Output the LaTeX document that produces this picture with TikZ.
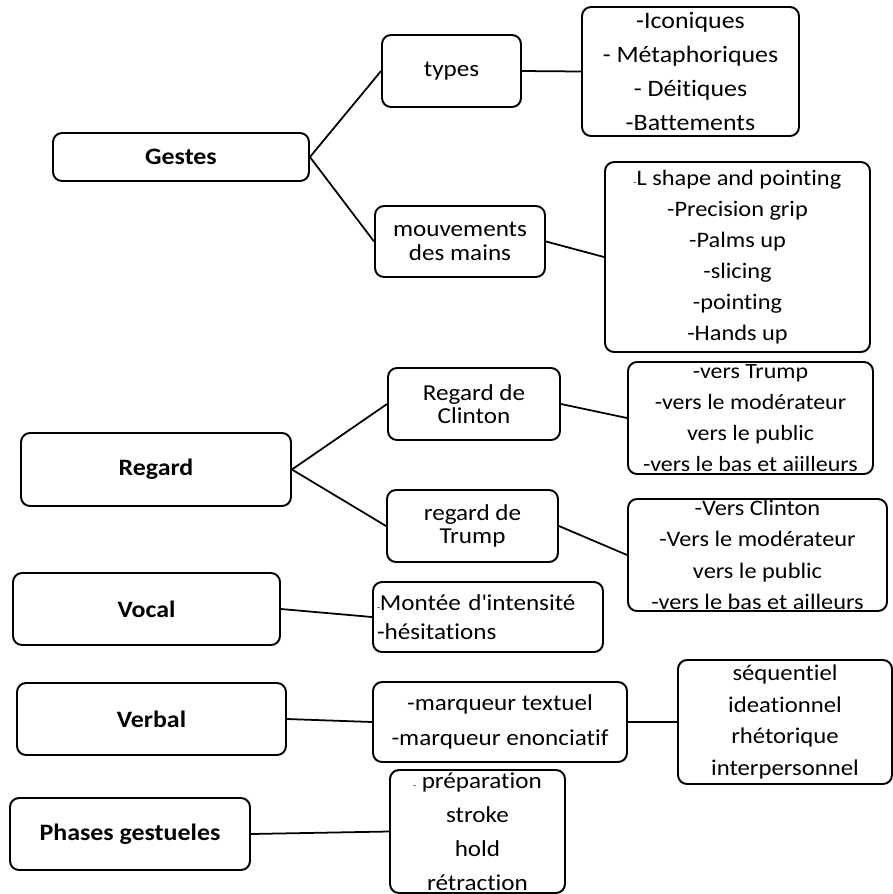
\documentclass[tikz,border=0pt]{standalone}
\usepackage{fontspec}
\setmainfont{Carlito}[FakeStretch=1.1, Ligatures=NoCommon]
\usepackage{tikz}

\begin{document}
\begin{tikzpicture}[x=0.02cm, y=-0.02cm,
  box/.style={draw, rounded corners=0.18cm, line width=1.1pt, inner sep=0pt, align=center},
  mainbox/.style={box, font=\fontsize{13.4}{15}\selectfont\bfseries},
  twoline/.style={box, font=\fontsize{13.0}{13.3}\selectfont},
  link/.style={line width=1pt}]
  \useasboundingbox (0, 0) rectangle (893, 894);
  \node [mainbox, minimum width=5.12cm, minimum height=0.96cm] (gestes) at (181, 157) {Gestes};
  \node [twoline, minimum width=2.78cm, minimum height=1.44cm] (types) at (451.5, 71) {types};
  \node [twoline, minimum width=3.40cm, minimum height=1.42cm] (mains) at (460, 241.5) {mouvements\\des mains};
  \node [box, minimum width=4.34cm, minimum height=2.58cm, font=\fontsize{13.4}{19.3}\selectfont] (typelist) at (690.5, 71.5)
    {-Iconiques\\- Métaphoriques\\- Déitiques\\-Battements};
  \node [box, minimum width=5.30cm, minimum height=3.80cm, font=\fontsize{12.6}{17.6}\selectfont] (mainlist) at (737.5, 257)
    {{\tiny-}L shape and pointing\\-Precision grip\\-Palms up\\-slicing\\-pointing\\-Hands up};
  \draw [link] (gestes.east) -- (types.west);
  \draw [link] (gestes.east) -- (mains.west);
  \draw [link] (types.east) -- (typelist.west);
  \draw [link] (mains.east) -- (mainlist.west);
  \node [mainbox, minimum width=5.40cm, minimum height=1.46cm] (regard) at (156, 469.5) {Regard};
  \node [twoline, minimum width=3.44cm, minimum height=1.44cm] (clinton) at (474, 404) {Regard de\\Clinton};
  \node [twoline, minimum width=3.42cm, minimum height=1.44cm] (trump) at (472.5, 526) {regard de\\Trump};
  \node [box, minimum width=4.90cm, minimum height=2.24cm, font=\fontsize{12.4}{17.6}\selectfont] (clintonlist) at (750.5, 418)
    {-vers Trump\\-vers le modérateur\\vers le public\\-vers le bas et aiilleurs};
  \node [box, minimum width=5.18cm, minimum height=2.24cm, font=\fontsize{12.6}{17.8}\selectfont] (trumplist) at (757.5, 555)
    {-Vers Clinton\\-Vers le modérateur\\vers le public\\-vers le bas et ailleurs};
  \draw [link] (regard.east) -- (clinton.west);
  \draw [link] (regard.east) -- (trump.west);
  \draw [link] (clinton.east) -- (clintonlist.west);
  \draw [link] (trump.east) -- (trumplist.west);
  \node [mainbox, minimum width=5.34cm, minimum height=1.44cm] (vocal) at (146.5, 609) {Vocal};
  \node [box, align=left, text width=4.44cm, minimum width=4.60cm, minimum height=1.40cm, font=\fontsize{13.0}{16.7}\selectfont] (vocallist) at (488, 617)
    {{\tiny-}Montée d\textquotesingle intensité\\-hésitations};
  \draw [link] (vocal.east) -- (vocallist.west);
  \node [mainbox, minimum width=5.38cm, minimum height=1.44cm] (verbal) at (151.5, 719) {Verbal};
  \node [box, minimum width=5.08cm, minimum height=1.60cm, font=\fontsize{13.0}{19.8}\selectfont] (marqueurs) at (500, 722)
    {-marqueur textuel\\-marqueur enonciatif};
  \node [box, minimum width=4.28cm, minimum height=2.48cm, font=\fontsize{12.8}{17.9}\selectfont] (fonctions) at (785, 722)
    {séquentiel\\ideationnel\\rhétorique\\interpersonnel};
  \draw [link] (verbal.east) -- (marqueurs.west);
  \draw [link] (marqueurs.east) -- (fonctions.west);
  \node [mainbox, minimum width=4.80cm, minimum height=1.44cm] (phases) at (130, 834) {Phases gestueles};
  \node [box, minimum width=3.50cm, minimum height=2.46cm, font=\fontsize{13.0}{19.3}\selectfont] (phaselist) at (477.5, 831.5)
    {{\tiny-} préparation\\stroke\\hold\\rétraction};
  \draw [link] (phases.east) -- (phaselist.west);
\end{tikzpicture}
\end{document}
